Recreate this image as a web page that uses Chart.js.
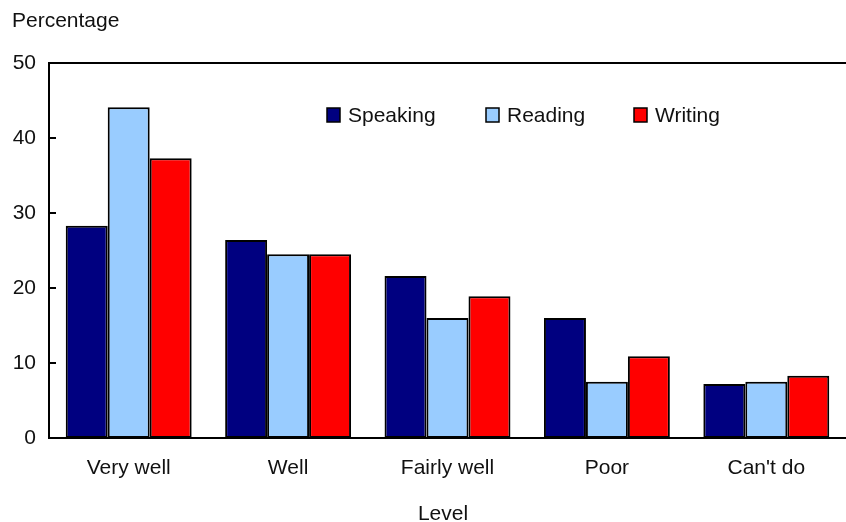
<!DOCTYPE html>
<html>
<head>
<meta charset="utf-8">
<script src="https://cdn.jsdelivr.net/npm/chart.js@4.4.1/dist/chart.umd.min.js"></script>
<style>
  html, body { margin: 0; padding: 0; background: #fff; }
  #wrap { width: 846px; height: 522px; position: relative; }
</style>
</head>
<body>
<div id="wrap"><canvas id="chart"></canvas></div>
<script>
(function () {
    "use strict";

    const categories = ["Very well", "Well", "Fairly well", "Poor", "Can't do"];
    const speaking = [28.3, 26.4, 21.6, 16.0, 7.2];
    const reading = [44.1, 24.5, 16.0, 7.5, 7.5];
    const writing = [37.3, 24.5, 18.9, 10.9, 8.3];
    const yTicks = [0, 10, 20, 30, 40, 50];

    const FONT = "'Liberation Sans', Arial, sans-serif";
    const FS = 21;
    Chart.defaults.font.family = FONT;
    Chart.defaults.font.size = FS;
    Chart.defaults.color = "#111";

    // frame line on top, inward y ticks, titles and legend inside the plot
    const decorations = {
        id: "decorations",
        afterDraw(chart) {
            const ctx = chart.ctx;
            const area = chart.chartArea;
            const y = chart.scales.y;
            ctx.save();
            ctx.strokeStyle = "#000";
            ctx.lineWidth = 2;
            ctx.beginPath();
            ctx.moveTo(area.left, area.top);
            ctx.lineTo(area.right, area.top);
            yTicks.forEach((v) => {
                const py = Math.round(y.getPixelForValue(v));
                ctx.moveTo(area.left, py);
                ctx.lineTo(area.left + 7, py);
            });
            ctx.stroke();

            ctx.fillStyle = "#111";
            ctx.font = FS + "px " + FONT;
            ctx.textBaseline = "middle";
            ctx.textAlign = "left";
            ctx.fillText("Percentage", 12, 21);
            ctx.textAlign = "center";
            ctx.fillText("Level", 443, 514);

            // legend
            const items = [
                { label: "Speaking", color: "#000080", x: 327 },
                { label: "Reading", color: "#99CCFF", x: 486 },
                { label: "Writing", color: "#FF0000", x: 634 },
            ];
            ctx.textAlign = "left";
            ctx.lineWidth = 1.5;
            items.forEach((it) => {
                ctx.fillStyle = it.color;
                ctx.fillRect(it.x, 108, 13, 14);
                ctx.strokeRect(it.x, 108, 13, 14);
                ctx.fillStyle = "#111";
                ctx.fillText(it.label, it.x + 21, 116);
            });
            ctx.restore();
        },
    };

    const ds = (label, data, color) => ({
        label: label,
        data: data,
        backgroundColor: color,
        borderColor: "#000",
        borderWidth: 2,
        borderSkipped: false,
        categoryPercentage: 0.79,
        barPercentage: 1,
    });

    new Chart(document.getElementById("chart"), {
        type: "bar",
        data: {
            labels: categories,
            datasets: [
                ds("Speaking", speaking, "#000080"),
                ds("Reading", reading, "#99CCFF"),
                ds("Writing", writing, "#FF0000"),
            ],
        },
        options: {
            responsive: true,
            maintainAspectRatio: false,
            animation: false,
            layout: { padding: { top: 63, right: 0, left: 0, bottom: 0 } },
            plugins: {
                legend: { display: false },
                tooltip: { enabled: false },
            },
            scales: {
                x: {
                    grid: { display: false, drawTicks: false },
                    border: { display: true, color: "#000", width: 2 },
                    ticks: { padding: 18, color: "#111", font: { size: FS } },
                    afterFit: (s) => { s.height = 84; },
                },
                y: {
                    min: 0,
                    max: 50,
                    afterBuildTicks: (s) => { s.ticks = yTicks.map((v) => ({ value: v })); },
                    grid: { display: false, drawTicks: false },
                    border: { display: true, color: "#000", width: 2 },
                    ticks: { padding: 13, color: "#111", font: { size: FS } },
                    afterFit: (s) => { s.width = 49; },
                },
            },
        },
        plugins: [decorations],
    });
})();
</script>
</body>
</html>
